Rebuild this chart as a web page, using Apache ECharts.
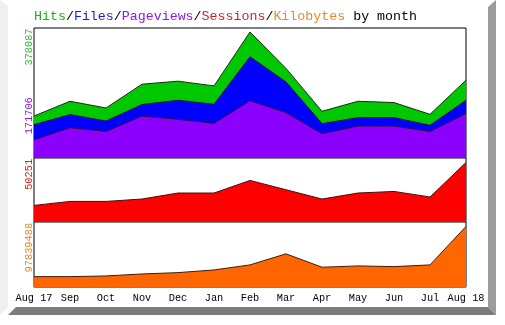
<!DOCTYPE html>
<html>
<head>
<meta charset="utf-8">
<script src="https://cdn.jsdelivr.net/npm/echarts@6/dist/echarts.min.js"></script>
<style>html,body{margin:0;padding:0;background:#fff;}#c{width:505px;height:325px;}</style>
</head>
<body>
<div id="c"></div>
<script>
const months = ['Aug 17','Sep','Oct','Nov','Dec','Jan','Feb','Mar','Apr','May','Jun','Jul','Aug 18'];
const hits = [125927,170212,150027,221426,230464,216305,378087,268724,140086,170212,166296,131048,233477];
const files = [100018,130144,110864,160270,173225,161174,303670,228355,103031,121107,121107,97910,173225];
const pageviews = [54829,90981,79834,125927,115985,103935,171706,136170,72905,95801,95801,79834,133157];
const sessions = [13996,17368,17368,19391,24450,24450,35073,27232,19391,24450,25799,21078,50251];
const kilobytes = [16712000,16712000,17848000,21093000,23202000,27583000,35696000,53544000,31964000,34073000,32934000,35696000,97839488];
const maxLabels = ['378087','171706','50251','97839488'];

const MONO = '"Liberation Mono", "DejaVu Sans Mono", monospace';
const chart = echarts.init(document.getElementById('c'), null, {renderer:'canvas'});

const grids = [
  {left:34, width:432, top:28, height:130},
  {left:34, width:432, top:158, height:64},
  {left:34, width:432, top:222, height:65}
].map(g => Object.assign(g, {show:true, borderColor:'#000', borderWidth:1, backgroundColor:'#fff', z:1}));

function xAx(i, showLabels){
  return {type:'category', gridIndex:i, data:months, boundaryGap:false,
    axisLine:{show:false}, axisTick:{show:false}, splitLine:{show:false},
    axisLabel:{show:showLabels, interval:0, margin:6, color:'#000', fontSize:10.3, fontFamily:MONO,
      showMinLabel:true, showMaxLabel:true, hideOverlap:false}};
}
function yAx(i, max){
  return {type:'value', gridIndex:i, min:0, max:max, show:false, splitLine:{show:false}};
}
function area(name, data, i, fill, line){
  return {name, type:'line', xAxisIndex:i, yAxisIndex:i, data, symbol:'none', silent:true,
    lineStyle:{color:line, width:1}, areaStyle:{color:fill, opacity:1}, z:2, animation:false};
}

chart.setOption({
  backgroundColor:'#fff',
  animation:false,
  title:{left:34, top:10, padding:0,
    text:'{g|Hits}{k|/}{b|Files}{k|/}{p|Pageviews}{k|/}{r|Sessions}{k|/}{o|Kilobytes}{k| by month}',
    textStyle:{fontFamily:MONO, fontSize:13.3, fontWeight:'normal',
      rich:{
        g:{color:'#16b316', fontFamily:MONO, fontSize:13.3},
        b:{color:'#1a1acc', fontFamily:MONO, fontSize:13.3},
        p:{color:'#8a1ae6', fontFamily:MONO, fontSize:13.3},
        r:{color:'#d42020', fontFamily:MONO, fontSize:13.3},
        o:{color:'#e8882a', fontFamily:MONO, fontSize:13.3},
        k:{color:'#000', fontFamily:MONO, fontSize:13.3}
      }}},
  grid:grids,
  xAxis:[xAx(0,false), xAx(1,false), xAx(2,true)],
  yAxis:[yAx(0,390000), yAx(1,54000), yAx(2,105000000)],
  series:[
    area('Hits', hits, 0, '#00c800', '#1a2a1a'),
    area('Files', files, 0, '#0000ff', '#101040'),
    area('Pageviews', pageviews, 0, '#8c00ff', '#301040'),
    area('Sessions', sessions, 1, '#ff0000', '#401010'),
    area('Kilobytes', kilobytes, 2, '#ff6600', '#401a10')
  ]
});

function yPix(gi, v){ return chart.convertToPixel({gridIndex:gi}, [0, v])[1]; }
function vlabel(text, gi, v, color){
  return {type:'text', x:29, y:yPix(gi, v) - 3.5, rotation:Math.PI/2, z:10,
    style:{text, fill:color, font:'10.3px ' + MONO, textAlign:'right', align:'right',
      textVerticalAlign:'middle', verticalAlign:'middle'}};
}
const hitsMax = Math.max(...hits), pvMax = Math.max(...pageviews),
      sesMax = Math.max(...sessions), kbMax = Math.max(...kilobytes);

chart.setOption({graphic:[
  {type:'polygon', shape:{points:[[0,0],[8,6],[8,307],[0,315]]}, style:{fill:'#efefef'}, z:0},
  {type:'polygon', shape:{points:[[488,307],[488,7],[496,0],[496,315]]}, style:{fill:'#9c9c9c'}, z:0},
  {type:'polygon', shape:{points:[[8,315],[16,307],[488,307],[496,315]]}, style:{fill:'#7c7c7c'}, z:0},
  vlabel(maxLabels[0], 0, hitsMax, '#2fbf2f'),
  vlabel(maxLabels[1], 0, pvMax, '#8a1ae6'),
  vlabel(maxLabels[2], 1, sesMax, '#d42020'),
  vlabel(maxLabels[3], 2, kbMax, '#e8882a')
]});
</script>
</body>
</html>
